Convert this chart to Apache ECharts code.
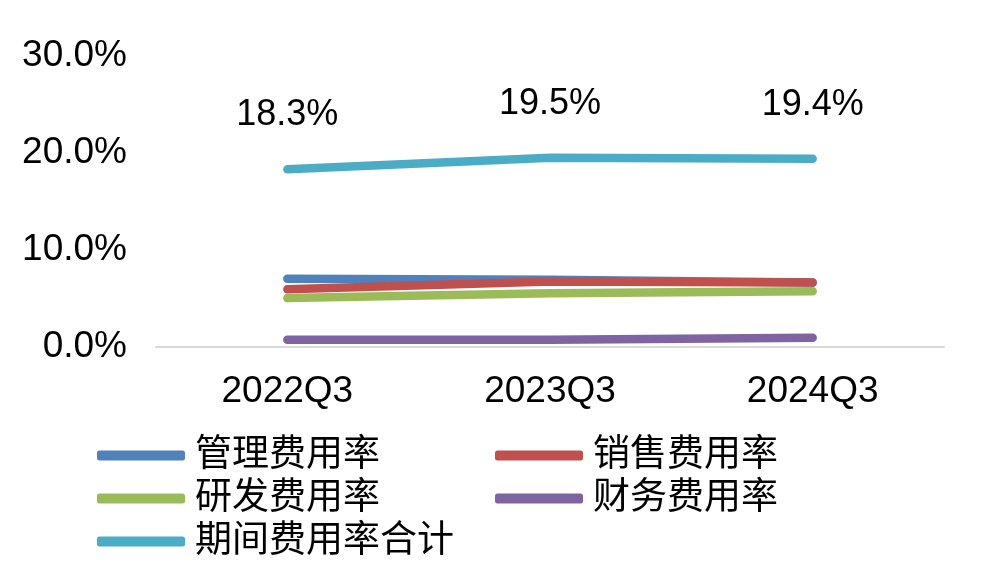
<!DOCTYPE html>
<html>
<head>
<meta charset="utf-8">
<script src="https://cdn.jsdelivr.net/npm/echarts@6/dist/echarts.min.js"></script>
<style>html,body{margin:0;padding:0;background:#fff;}#c{width:995px;height:582px;}</style>
</head>
<body>
<div id="c"></div>
<script>
const categories = ['2022Q3', '2023Q3', '2024Q3'];
const yTicks = [0, 10, 20, 30];
const mgmtRate = [7.0, 6.9, 6.6];
const salesRate = [5.9, 6.7, 6.6];
const rdRate = [5.0, 5.5, 5.7];
const finRate = [0.7, 0.7, 0.9];
const totalRate = [18.3, 19.5, 19.4];
const seriesNames = ['管理费用率', '销售费用率', '研发费用率', '财务费用率', '期间费用率合计'];
const colors = ['#4F81BD', '#C0504D', '#9BBB59', '#8064A2', '#4BACC6'];

const FONT = '"Liberation Sans", "Noto Sans CJK SC", sans-serif';
const chart = echarts.init(document.getElementById('c'));
const dataSets = [mgmtRate, salesRate, rdRate, finRate, totalRate];
const legendCommon = {
  orient: 'vertical', itemWidth: 88, itemHeight: 10, itemGap: 6, padding: 0,
  icon: 'roundRect',
  textStyle: { fontFamily: FONT, fontSize: 37, color: '#000', padding: [0, 0, 0, 5] }
};
chart.setOption({
  animation: false,
  color: colors,
  grid: { left: 156, right: 51, top: 56, bottom: 235.5, containLabel: false },
  legend: [
    Object.assign({ left: 97, top: 437, data: [seriesNames[0], seriesNames[2], seriesNames[4]] }, legendCommon),
    Object.assign({ left: 495, top: 437, data: [seriesNames[1], seriesNames[3]] }, legendCommon)
  ],
  xAxis: {
    type: 'category', data: categories, boundaryGap: true,
    axisLine: { lineStyle: { color: '#d9d9d9', width: 2 } },
    axisTick: { show: false },
    axisLabel: { fontFamily: FONT, fontSize: 37, color: '#000', margin: 27 }
  },
  yAxis: {
    type: 'value', min: yTicks[0], max: yTicks[yTicks.length - 1], interval: 10,
    axisLine: { show: false }, axisTick: { show: false }, splitLine: { show: false },
    axisLabel: { fontFamily: FONT, fontSize: 37, color: '#000', margin: 29,
      formatter: v => v.toFixed(1) + '%' }
  },
  series: dataSets.map((d, i) => ({
    name: seriesNames[i], type: 'line', data: d,
    symbol: 'circle', symbolSize: 0, showSymbol: true,
    lineStyle: { width: 8.5, color: colors[i], cap: 'round', join: 'round' },
    itemStyle: { color: colors[i] },
    label: i === 4 ? { show: true, position: 'top', distance: 36, fontFamily: FONT, fontSize: 36, color: '#000',
      formatter: p => p.value.toFixed(1) + '%' } : { show: false }
  }))
});
</script>
</body>
</html>
